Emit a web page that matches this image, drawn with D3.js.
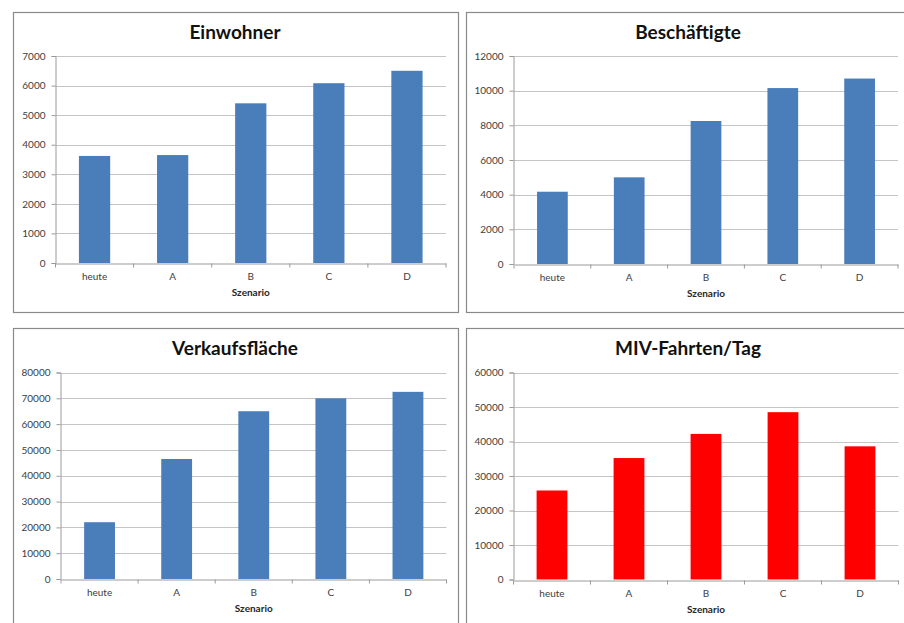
<!DOCTYPE html>
<html>
<head>
<meta charset="utf-8">
<script src="https://cdn.jsdelivr.net/npm/d3@7"></script>
<style>
  html, body { margin: 0; padding: 0; background: #ffffff; }
  svg { display: block; }
</style>
</head>
<body>
<svg id="chart" width="904" height="623"></svg>
<script>
// ---- data ----
const categories = ["heute", "A", "B", "C", "D"];
const einwohner = [3620, 3650, 5400, 6080, 6500];
const beschaeftigte = [4170, 5000, 8250, 10150, 10700];
const verkaufsflaeche = [22000, 46500, 65000, 70000, 72500];
const mivFahrten = [25800, 35200, 42200, 48500, 38600];
const titles = ["Einwohner", "Beschäftigte", "Verkaufsfläche", "MIV-Fahrten/Tag"];
const yMax = [7000, 12000, 80000, 60000];
const yStep = [1000, 2000, 10000, 10000];
const xAxisTitle = "Szenario";

// ---- layout (styles / positions) ----
const panels = [
  { values: einwohner,      box: [13, 12, 445, 300],  plot: [55.5, 56, 446, 263],   color: "#4a7ebb" },
  { values: beschaeftigte,  box: [466, 12, 445, 300], plot: [514, 56, 898, 264],    color: "#4a7ebb" },
  { values: verkaufsflaeche,box: [13, 328, 445, 300], plot: [61, 372.5, 446.5, 579], color: "#4a7ebb" },
  { values: mivFahrten,     box: [466, 328, 445, 300],plot: [513.5, 372.5, 898.5, 579.5], color: "#ff0000" }
];

const svg = d3.select("#chart");
const fontFam = "Lato, 'Open Sans', 'Liberation Sans', sans-serif";

panels.forEach((p, i) => {
  const [bx, by, bw, bh] = p.box;
  svg.append("rect")
    .attr("x", bx + 0.5).attr("y", by + 0.5)
    .attr("width", bw).attr("height", bh)
    .attr("fill", "#ffffff")
    .attr("stroke", "#8a8a8a").attr("stroke-width", 1.2);

  const [x0, y0, x1, y1] = p.plot;
  const x = d3.scaleBand().domain(categories).range([x0, x1])
    .paddingInner(0.6).paddingOuter(0.3);
  const y = d3.scaleLinear().domain([0, yMax[i]]).range([y1, y0]);
  const ticks = d3.range(0, yMax[i] + 1, yStep[i]);

  const g = svg.append("g");

  // gridlines
  g.append("g").selectAll("line").data(ticks.slice(1)).join("line")
    .attr("x1", x0).attr("x2", x1)
    .attr("y1", d => Math.round(y(d)) + 0.5).attr("y2", d => Math.round(y(d)) + 0.5)
    .attr("stroke", "#c4c4c4").attr("stroke-width", 1);

  // y axis
  const yAxis = d3.axisLeft(y).tickValues(ticks).tickSize(4).tickPadding(6)
    .tickFormat(d3.format("d"));
  const ya = g.append("g").attr("transform", `translate(${Math.round(x0) - 0.5},0)`).call(yAxis);
  ya.select(".domain").attr("stroke", "#9a9a9a");
  ya.selectAll(".tick line").attr("stroke", "#9a9a9a");
  ya.selectAll(".tick text").attr("font-family", fontFam).attr("font-size", 10)
    .attr("fill", "#404040");

  // bars
  g.append("g").selectAll("rect").data(p.values).join("rect")
    .attr("x", (d, k) => x(categories[k]))
    .attr("width", x.bandwidth())
    .attr("y", d => y(d))
    .attr("height", d => y(0) - y(d))
    .attr("fill", p.color);

  // x axis
  const xAxis = d3.axisBottom(x).tickSize(0).tickPadding(9);
  const xa = g.append("g").attr("transform", `translate(0,${Math.round(y1) + 0.5})`).call(xAxis);
  xa.select(".domain").attr("stroke", "#9a9a9a");
  xa.selectAll(".tick text").attr("font-family", fontFam).attr("font-size", 10)
    .attr("fill", "#404040");
  // category boundary tick marks
  const step = x.step();
  g.append("g").selectAll("line").data(d3.range(categories.length + 1)).join("line")
    .attr("x1", k => x0 + k * step).attr("x2", k => x0 + k * step)
    .attr("y1", Math.round(y1) + 0.5).attr("y2", Math.round(y1) + 4.5)
    .attr("stroke", "#9a9a9a");

  // axis title
  g.append("text")
    .attr("x", (x0 + x1) / 2).attr("y", y1 + 33)
    .attr("text-anchor", "middle")
    .attr("font-family", fontFam).attr("font-size", 10).attr("font-weight", "bold")
    .attr("fill", "#262626")
    .text(xAxisTitle);

  // chart title
  g.append("text")
    .attr("x", bx + 222).attr("y", by + 27)
    .attr("text-anchor", "middle")
    .attr("font-family", fontFam).attr("font-size", 19).attr("font-weight", "bold")
    .attr("fill", "#111111")
    .text(titles[i]);
});
</script>
</body>
</html>
